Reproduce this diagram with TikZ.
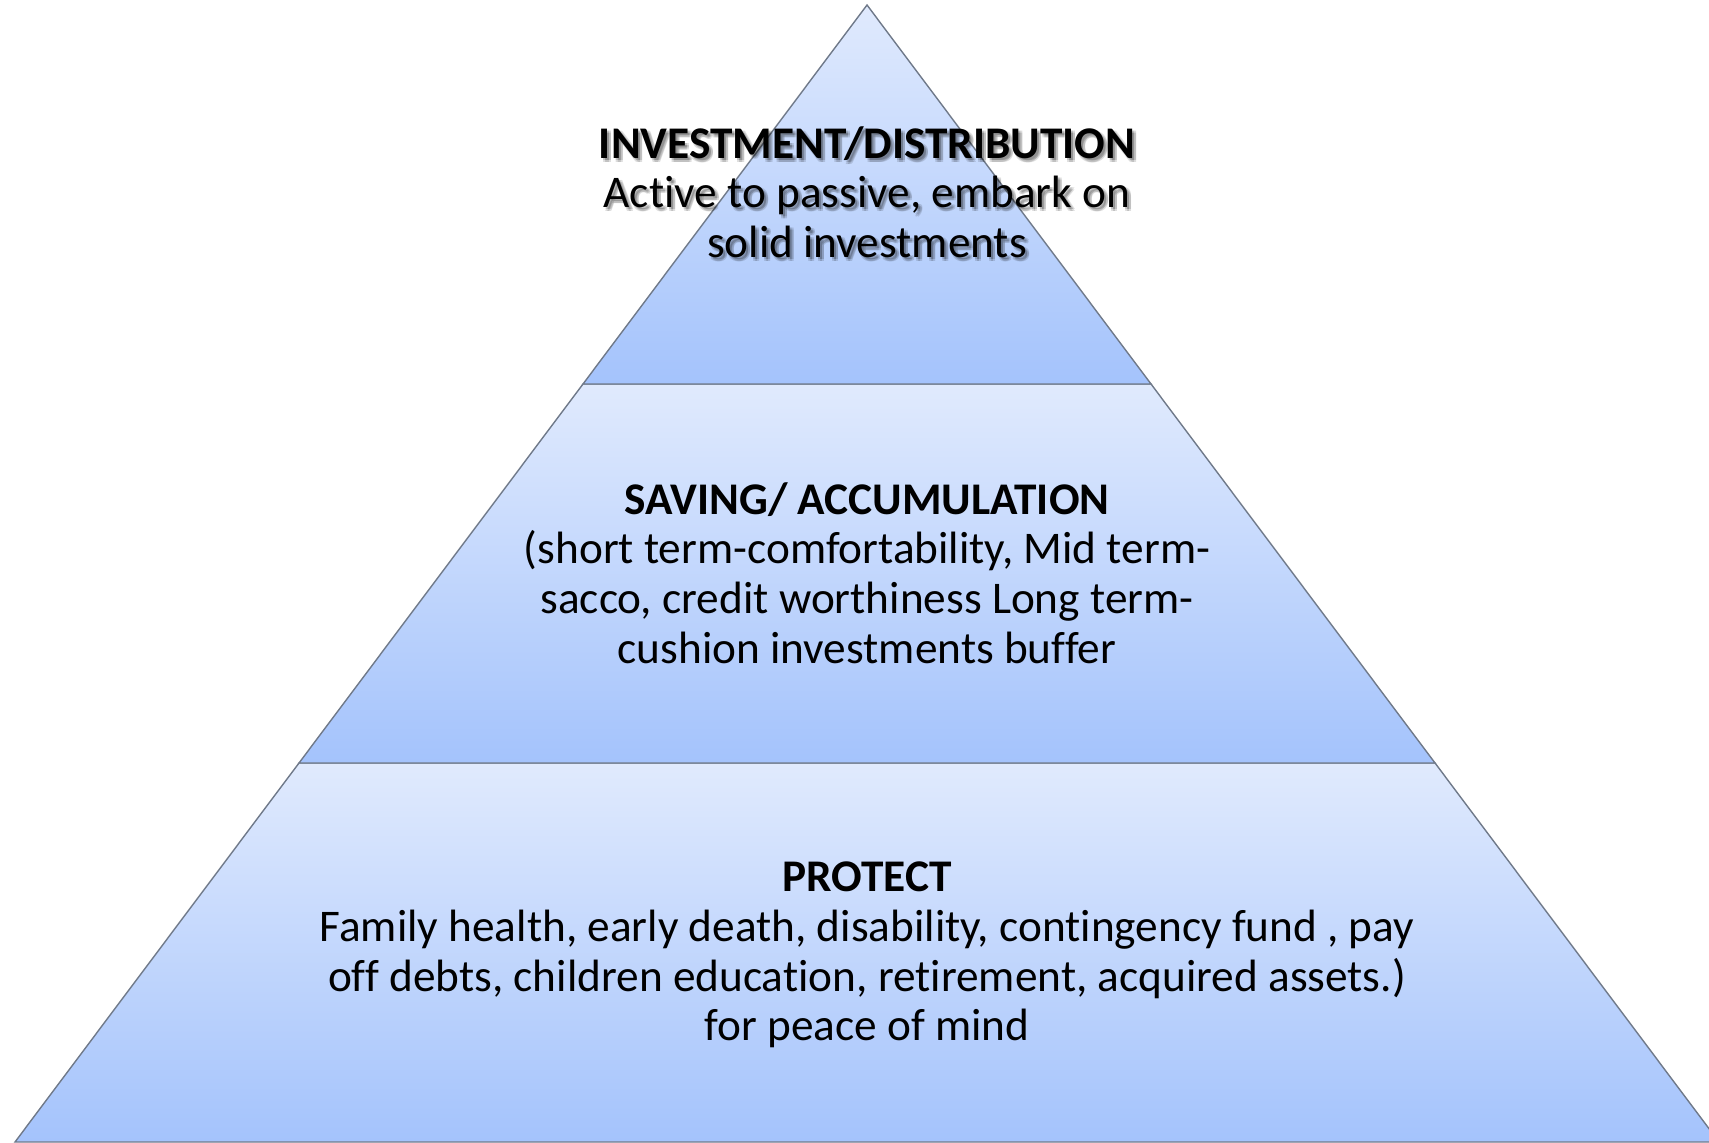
\documentclass[tikz,border=0pt]{standalone}
\usepackage{fontspec}
\setmainfont{Carlito}[Ligatures={NoCommon}]
\definecolor{tierTop}{RGB}{224,234,253}
\definecolor{tierBot}{RGB}{164,195,252}
\definecolor{edge}{RGB}{112,122,138}
\begin{document}
\begin{tikzpicture}[x=1pt,y=-1pt,
  tier/.style={top color=tierTop,bottom color=tierBot,draw=edge,line width=1.4pt,line join=miter},
  label/.style={align=center,font=\fontsize{45.3}{49.6}\selectfont,inner sep=0pt},
  shadowtext/.style={label,text=black,text opacity=0.13}]
\useasboundingbox (0,0) rectangle (1709,1143);
% corner points of the pyramid (pixel units, y downwards)
\coordinate (apex) at (867,5);
\coordinate (l1) at (583,384);  \coordinate (r1) at (1151,384);
\coordinate (l2) at (299,763);  \coordinate (r2) at (1435,763);
\coordinate (l3) at (15,1142);  \coordinate (r3) at (1719,1142);
% three shaded tiers
\shade[tier] (l3) -- (r3) -- (r2) -- (l2) -- cycle;
\shade[tier] (l2) -- (r2) -- (r1) -- (l1) -- cycle;
\shade[tier] (l1) -- (r1) -- (apex) -- cycle;
% soft drop shadow behind the top label
\foreach \dx/\dy in {2/2,4/2,2/4,4/4}{
    \node[shadowtext] at (867+\dx,192+\dy)
      {\textbf{INVESTMENT/DISTRIBUTION}\\Active to passive, embark on\\solid investments};
  }
\node[label] (invest) at (867,192)
  {\textbf{INVESTMENT/DISTRIBUTION}\\Active to passive, embark on\\solid investments};
\node[label] (saving) at (867,573)
  {\textbf{SAVING/ ACCUMULATION}\\(short term-comfortability, Mid term-\\sacco, credit worthiness Long term-\\cushion investments buffer};
\node[label] (protect) at (867,955)
  {\textbf{PROTECT}\\Family health, early death, disability, contingency fund , pay\\off debts, children education, retirement, acquired assets.)\\for peace of mind};
\end{tikzpicture}
\end{document}
